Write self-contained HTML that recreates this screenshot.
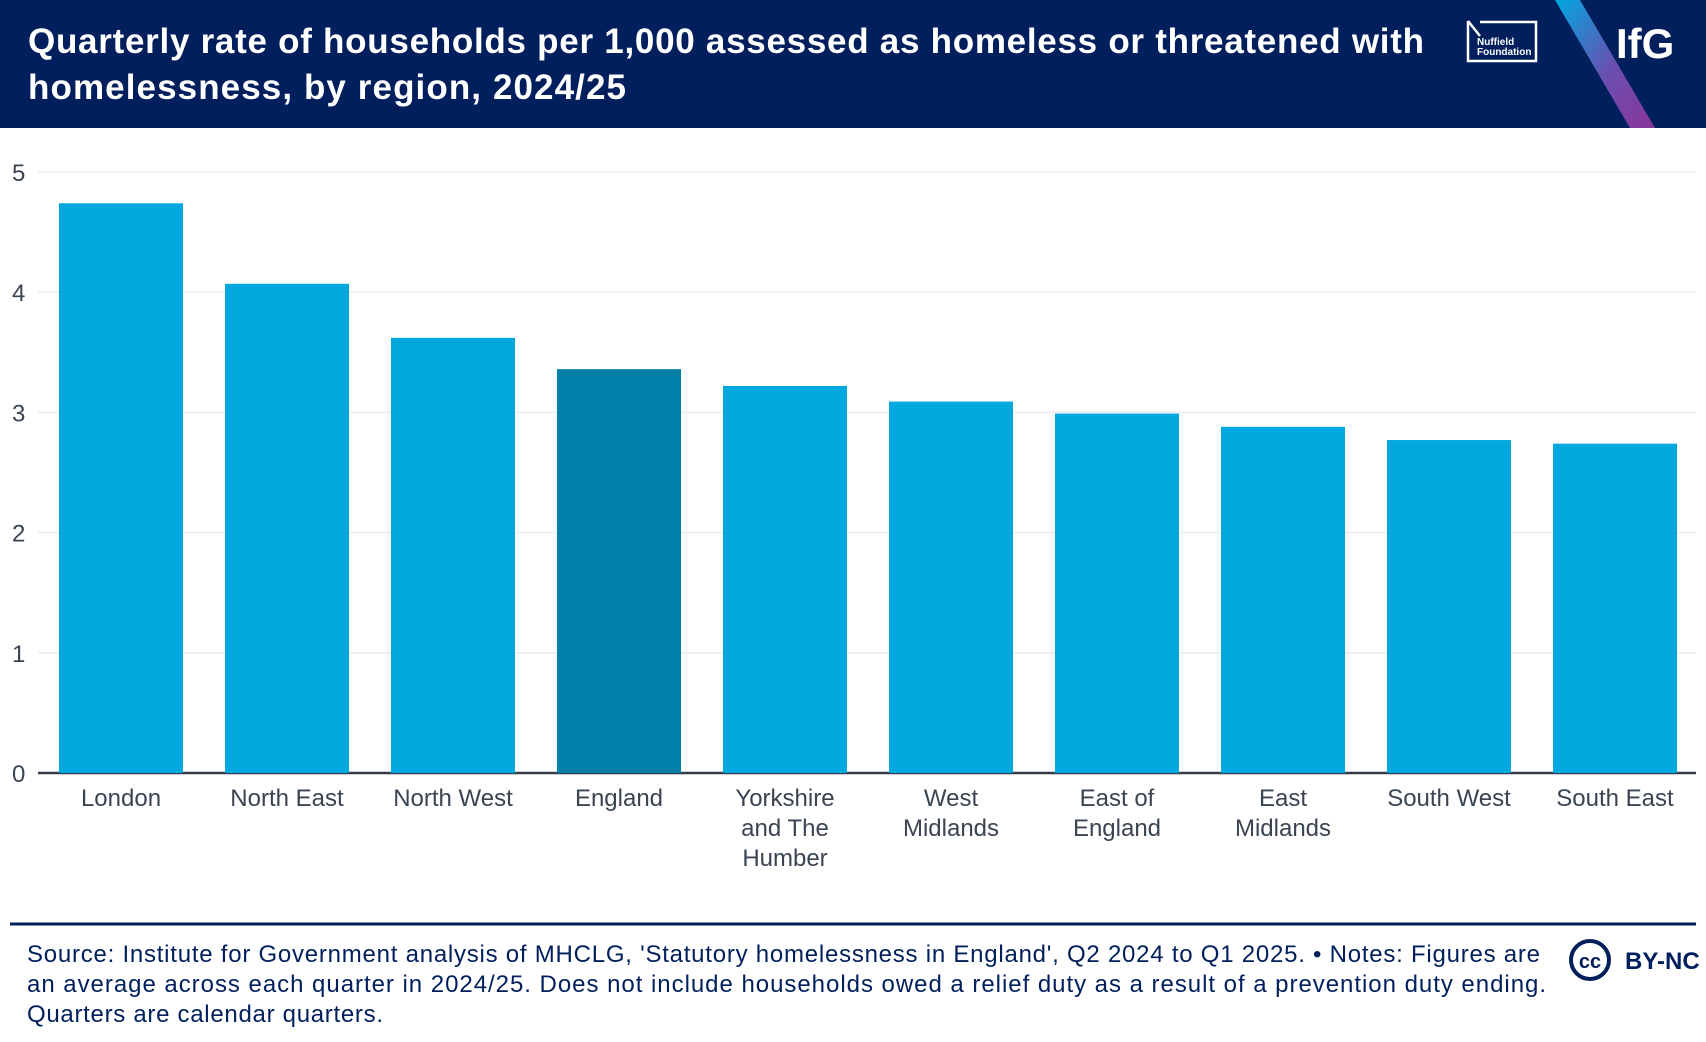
<!DOCTYPE html>
<html><head><meta charset="utf-8"><style>
html,body{margin:0;padding:0;background:#fff;}
svg{display:block;font-family:"Liberation Sans",sans-serif;}
</style></head><body>
<svg id="chart" width="1706" height="1042" viewBox="0 0 1706 1042">
<defs><linearGradient id="stripe" x1="0" y1="0" x2="1" y2="1"><stop offset="0" stop-color="#00a8e0"/><stop offset="0.55" stop-color="#6a4fb0"/><stop offset="1" stop-color="#8a3599"/></linearGradient></defs>
<rect x="0" y="0" width="1706" height="128" fill="#001f5c"/>
<polygon points="1555,0 1580,0 1655,128 1630,128" fill="url(#stripe)"/>
<text x="28" y="53" font-size="35" font-weight="bold" fill="#fff" textLength="1396" lengthAdjust="spacing">Quarterly rate of households per 1,000 assessed as homeless or threatened with</text>
<text x="28" y="99" font-size="35" font-weight="bold" fill="#fff" textLength="598" lengthAdjust="spacing">homelessness, by region, 2024/25</text>
<g>
<path d="M1468,21 L1468,61 L1536,61 L1536,22 L1480,22" fill="none" stroke="#fff" stroke-width="2.5"/>
<path d="M1468,21 L1480,36" stroke="#fff" stroke-width="2.5"/>
<text x="1477" y="45" font-size="10" font-weight="bold" fill="#fff">Nuffield</text>
<text x="1477" y="55" font-size="10" font-weight="bold" fill="#fff">Foundation</text>
</g>
<text x="1616" y="58" font-size="42" font-weight="bold" fill="#fff">IfG</text>
<g id="grid"></g><g id="bars"></g><g id="labels"></g>
<line x1="10" y1="924" x2="1696" y2="924" stroke="#001f5c" stroke-width="3"/>
<g font-size="24" fill="#001f5c">
<text x="27" y="962" textLength="1513" lengthAdjust="spacing">Source: Institute for Government analysis of MHCLG, 'Statutory homelessness in England', Q2 2024 to Q1 2025. • Notes: Figures are</text>
<text x="27" y="992" textLength="1519" lengthAdjust="spacing">an average across each quarter in 2024/25. Does not include households owed a relief duty as a result of a prevention duty ending.</text>
<text x="27" y="1022" textLength="356" lengthAdjust="spacing">Quarters are calendar quarters.</text>
</g>
<g>
<circle cx="1590" cy="960" r="19" fill="none" stroke="#001f5c" stroke-width="4"/>
<text x="1590" y="968" font-size="20" font-weight="bold" fill="#001f5c" text-anchor="middle">cc</text>
<text x="1625" y="969" font-size="24" font-weight="bold" fill="#001f5c">BY-NC</text>
</g>
</svg>
<script>
const categories = [["London"],["North East"],["North West"],["England"],["Yorkshire","and The","Humber"],["West","Midlands"],["East of","England"],["East","Midlands"],["South West"],["South East"]];
const values = [4.74,4.07,3.62,3.36,3.22,3.09,2.99,2.88,2.77,2.74];
const highlight = [false,false,false,true,false,false,false,false,false,false];
const yTicks = [0,1,2,3,4,5];
const NS="http://www.w3.org/2000/svg";
const y0=773, yTop=172, yMax=5;
const y=v=>y0-(v/yMax)*(y0-yTop);
const plotL=38, plotR=1696, band=166, firstC=121, barW=124;
const x=i=>firstC+i*band;
function mk(t,a,p){const e=document.createElementNS(NS,t);for(const k in a)e.setAttribute(k,a[k]);p.appendChild(e);return e;}
const grid=document.getElementById('grid'),bars=document.getElementById('bars'),labels=document.getElementById('labels');
yTicks.forEach(t=>{
 if(t>0){const g=mk('line',{x1:plotL,x2:plotR,y1:y(t),y2:y(t),stroke:'#ececec','stroke-width':1.5},grid);
 
 }
 const tx=mk('text',{x:12,y:y(t)+9,'font-size':24,fill:'#3b4452'},grid);
 tx.textContent=t;
 
 
});
values.forEach((v,i)=>{
 const r=mk('rect',{x:x(i)-barW/2,y:y(v),width:barW,height:y0-y(v),fill:highlight[i]?'#0080a8':'#00a8e0'},bars);
 
 
 categories[i].forEach((ln,j)=>{
  const t=mk('text',{x:x(i),y:806+j*30,'font-size':24,fill:'#3b4452','text-anchor':'middle'},labels);
  t.textContent=ln;
  
  
 });
});
const ax=mk('line',{x1:plotL,x2:plotR,y1:y0,y2:y0,stroke:'#333d4a','stroke-width':2.5},grid);


</script>
</body></html>
